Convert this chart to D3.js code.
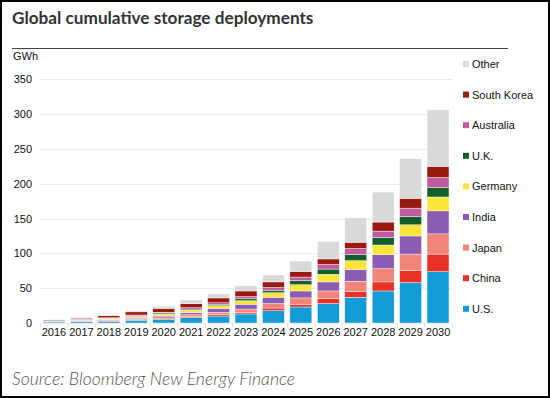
<!DOCTYPE html>
<html>
<head>
<meta charset="utf-8">
<script src="https://cdn.jsdelivr.net/npm/d3@7"></script>
<style>
  body { margin: 0; background: #fff; }
  svg { display: block; }
  .tick text { font-family: "Liberation Sans", Arial, sans-serif; font-size: 11px; fill: #111; }
</style>
</head>
<body>
<svg id="chart" width="550" height="398"></svg>
<script>
// values, GWh per segment
var years = ["2016","2017","2018","2019","2020","2021","2022","2023","2024","2025","2026","2027","2028","2029","2030"];
var countries = ["U.S.","China","Japan","India","Germany","U.K.","Australia","South Korea","Other"];
var colors = ["#139bd6","#ea3127","#f28579","#8a5cb2","#fae63a","#125f2c","#c05ba2","#981a10","#d9d9d9"];

var us        = [1.5, 2,   2.5, 4,   5.5, 7.7, 10,  13,  17.7, 23, 28,  37,   46, 58, 73.7];
var china     = [0.5, 0.5, 1,   1,   1.5, 1.8, 2,   2.3, 3.8,  4,  7,   8.5,  13, 17, 25.3];
var japan     = [0.5, 1,   1,   1.5, 2,   2.5, 3.3, 4.7, 6.5,  9,  11,  14.5, 19, 24, 29];
var india     = [0.3, 0.5, 0.5, 1.5, 2,   3,   5.7, 7,   9,    10, 13,  17,   20, 26, 33];
var germany   = [0.2, 0.5, 1,   1.5, 2,   3.5, 4,   5,   6.5,  9,  11,  12.5, 14, 16, 20];
var uk        = [0.3, 0.5, 1,   1,   1.5, 1.5, 2,   3,   3.5,  6,  7.5, 9,    11, 12, 14];
var australia = [0.2, 0.5, 0.5, 1,   1,   2,   2,   3,   4,    5,  6.5, 8.5,  9,  12, 14];
var southKorea= [1,   1.5, 3,   4.5, 5.5, 6,   7,   8,   8,    8,  8,   9,    13, 14, 16];
var other     = [0.8, 1,   1,   2,   3,   5,   5.7, 7.6, 10,   15, 25,  35,   43, 57, 81];

var yTicks = [0, 50, 100, 150, 200, 250, 300, 350];

var series = [us, china, japan, india, germany, uk, australia, southKorea, other];
var rows = years.map(function (yr, i) {
    var r = { year: yr };
    countries.forEach(function (c, j) { r[c] = series[j][i]; });
    return r;
});

var svg = d3.select("#chart");

// frame
svg.append("rect")
    .attr("x", 1).attr("y", 1)
    .attr("width", 548).attr("height", 396)
    .attr("fill", "none")
    .attr("stroke", "#000")
    .attr("stroke-width", 2);

svg.append("text")
    .attr("x", 12).attr("y", 24)
    .attr("font-family", "Lato, sans-serif")
    .attr("font-weight", "bold")
    .attr("font-size", 17.2)
    .attr("fill", "#333")
    .text("Global cumulative storage deployments");

svg.append("line")
    .attr("x1", 12).attr("x2", 508)
    .attr("y1", 48.5).attr("y2", 48.5)
    .attr("stroke", "#444").attr("stroke-width", 1);

var x = d3.scaleBand()
    .domain(years)
    .range([40, 452])
    .paddingInner(0.2)
    .paddingOuter(0.11);

var y = d3.scaleLinear()
    .domain([0, 350])
    .range([323, 79.3]);

// gridlines
svg.append("g")
    .selectAll("line")
    .data(yTicks)
    .enter()
    .append("line")
    .attr("x1", 40).attr("x2", 452)
    .attr("y1", function (d) { return Math.round(y(d)) + 0.5; })
    .attr("y2", function (d) { return Math.round(y(d)) + 0.5; })
    .attr("stroke", "#ececec");

var yAxis = svg.append("g")
    .attr("transform", "translate(34,0)")
    .call(d3.axisLeft(y).tickValues(yTicks).tickSize(0).tickPadding(2));
yAxis.select(".domain").remove();

svg.append("text")
    .attr("x", 13).attr("y", 60)
    .attr("font-family", "Liberation Sans, Arial, sans-serif")
    .attr("font-size", 11)
    .attr("fill", "#111")
    .text("GWh");

var stack = d3.stack().keys(countries);
var layers = stack(rows);

svg.append("g")
    .selectAll("g")
    .data(layers)
    .enter()
    .append("g")
    .attr("fill", function (d, i) { return colors[i]; })
    .selectAll("rect")
    .data(function (d) { return d; })
    .enter()
    .append("rect")
    .attr("x", function (d) { return x(d.data.year); })
    .attr("y", function (d) { return y(d[1]); })
    .attr("width", x.bandwidth())
    .attr("height", function (d) { return y(d[0]) - y(d[1]); })
    .attr("stroke", "#fff")
    .attr("stroke-width", 0.4);

var xAxis = svg.append("g")
    .attr("transform", "translate(0,323)")
    .call(d3.axisBottom(x).tickSize(0).tickPadding(5));
xAxis.select(".domain").remove();

// small ticks between bands
svg.append("g")
    .selectAll("line")
    .data(years.concat(["end"]))
    .enter()
    .append("line")
    .attr("x1", function (d, i) { return Math.round(x(years[0]) - x.step() * 0.1 + i * x.step()) + 0.5; })
    .attr("x2", function (d, i) { return Math.round(x(years[0]) - x.step() * 0.1 + i * x.step()) + 0.5; })
    .attr("y1", 323).attr("y2", 327)
    .attr("stroke", "#e2e2e2");

// legend, top item is Other
var legendItems = countries.slice().reverse();
var legendColors = colors.slice().reverse();
var legend = svg.append("g")
    .selectAll("g")
    .data(legendItems)
    .enter()
    .append("g")
    .attr("transform", function (d, i) { return "translate(463," + (64 + i * 30.6) + ")"; });

legend.append("rect")
    .attr("x", 0).attr("y", -3)
    .attr("width", 6).attr("height", 6)
    .attr("fill", function (d, i) { return legendColors[i]; });

legend.append("text")
    .attr("x", 9).attr("y", 4)
    .attr("font-family", "Liberation Sans, Arial, sans-serif")
    .attr("font-size", 11)
    .attr("fill", "#111")
    .text(function (d) { return d; });

svg.append("text")
    .attr("x", 12).attr("y", 385)
    .attr("font-family", "Lato, sans-serif")
    .attr("font-style", "italic")
    .attr("font-weight", 300)
    .attr("font-size", 17.6)
    .attr("fill", "#555")
    .text("Source: Bloomberg New Energy Finance");
</script>
</body>
</html>
